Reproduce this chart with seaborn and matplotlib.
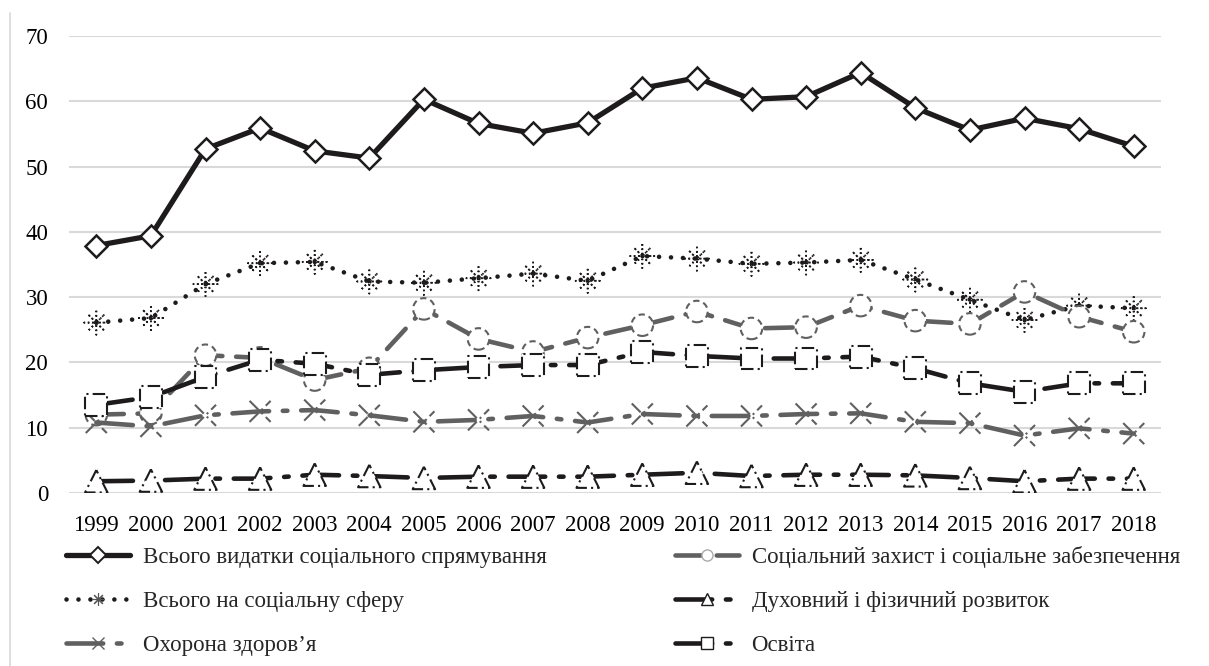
import matplotlib
matplotlib.use("Agg")
import matplotlib.pyplot as plt
from matplotlib.lines import Line2D
import pandas as pd
import seaborn as sns

# Shares of expenditure by year
years = list(range(1999, 2019))
total_social = [37.9, 39.4, 52.7, 55.9, 52.4, 51.3, 60.3, 56.6, 55.1, 56.7,
                62.0, 63.6, 60.3, 60.7, 64.4, 59.0, 55.6, 57.4, 55.8, 53.1]
social_sphere = [26.1, 26.8, 32.0, 35.2, 35.4, 32.4, 32.2, 32.9, 33.6, 32.5,
                 36.3, 35.9, 35.1, 35.3, 35.7, 32.7, 29.6, 26.5, 28.7, 28.3]
social_protection = [12.0, 12.2, 21.1, 20.7, 17.3, 19.1, 28.2, 23.6, 21.6, 23.8,
                     25.7, 27.8, 25.2, 25.4, 28.7, 26.4, 25.9, 30.8, 27.0, 24.7]
health = [10.8, 10.2, 11.9, 12.5, 12.7, 11.9, 10.9, 11.2, 11.8, 10.8,
          12.1, 11.8, 11.8, 12.1, 12.2, 10.9, 10.7, 8.8, 9.9, 9.1]
culture_sport = [1.8, 1.9, 2.2, 2.2, 2.8, 2.6, 2.3, 2.5, 2.5, 2.5,
                 2.8, 3.1, 2.6, 2.8, 2.8, 2.7, 2.3, 1.8, 2.2, 2.2]
education = [13.5, 14.7, 17.8, 20.4, 19.8, 18.1, 18.8, 19.3, 19.6, 19.6,
             21.6, 21.0, 20.6, 20.6, 20.9, 19.1, 16.8, 15.5, 16.8, 16.8]

labels = {
    "total": "Всього видатки соціального спрямування",
    "protection": "Соціальний захист і соціальне забезпечення",
    "sphere": "Всього на соціальну сферу",
    "culture": "Духовний і фізичний розвиток",
    "health": "Охорона здоров’я",
    "education": "Освіта",
}
y_ticks = [0, 10, 20, 30, 40, 50, 60, 70]

df = pd.DataFrame({
    "year": years,
    "total": total_social,
    "sphere": social_sphere,
    "protection": social_protection,
    "health": health,
    "culture": culture_sport,
    "education": education,
})

BLACK = "#1e1b1c"
GREY = "#606060"
DASH_DOT = (0, (8, 3, 1, 3))
SERIF = "Liberation Serif"
FS = 16.5

sns.set_style("white")
plt.rcParams["font.family"] = SERIF

fig = plt.figure(figsize=(12.09, 6.66), dpi=100)
ax = fig.add_axes([69 / 1209, 1 - 493 / 666, (1161 - 69) / 1209, (493 - 36) / 666])

# series styles: line kwargs, marker kwargs
styles = {
    "sphere": dict(line=dict(color=BLACK, lw=3.3, linestyle=(0, (0.01, 2.6))),
                   mk=dict(marker=(8, 2, 0), s=300, color=BLACK, linewidth=1.3,
                           linestyle=(0, (0.8, 1.6)))),
    "protection": dict(line=dict(color=GREY, lw=3.3, linestyle=(0, (6, 3))),
                       mk=dict(marker="o", s=240, facecolor="white", edgecolor=GREY,
                               linewidth=1.5, linestyle=(0, (3, 2)))),
    "health": dict(line=dict(color=GREY, lw=3.3, linestyle=DASH_DOT),
                   mk=dict(marker="x", s=230, color=GREY, linewidth=1.5,
                           linestyle=(0, (6, 2, 1, 2)))),
    "culture": dict(line=dict(color=BLACK, lw=3.3, linestyle=DASH_DOT),
                    mk=dict(marker="^", s=260, facecolor="white", edgecolor=BLACK,
                            linewidth=1.5, linestyle=(0, (6, 2, 1, 2)))),
    "education": dict(line=dict(color=BLACK, lw=3.3, linestyle=DASH_DOT),
                      mk=dict(marker="s", s=250, facecolor="white", edgecolor=BLACK,
                              linewidth=1.5, linestyle=(0, (6, 2, 1, 2)))),
}

z = 3
for key in ["sphere", "protection", "health", "culture", "education"]:
    st = styles[key]
    sns.lineplot(data=df, x="year", y=key, ax=ax, zorder=z,
                 dash_capstyle="round", solid_capstyle="round", **st["line"])
    sns.scatterplot(data=df, x="year", y=key, ax=ax, zorder=z + 0.5,
                    legend=False, **st["mk"])
    z += 1

# main total series on top
sns.lineplot(data=df, x="year", y="total", ax=ax, zorder=20, color=BLACK, lw=3.8,
             marker="D", markersize=11, markerfacecolor="white",
             markeredgecolor=BLACK, markeredgewidth=1.8, solid_capstyle="round")

ax.set_xlim(1998.5, 2018.5)
ax.set_ylim(0, 70)
ax.set_xticks(years)
ax.set_xticklabels([str(y) for y in years], family=SERIF, fontsize=FS)
ax.set_yticks(y_ticks)
ax.set_yticklabels([str(v) for v in y_ticks], family=SERIF, fontsize=FS)
ax.set_xlabel("")
ax.set_ylabel("")
ax.grid(axis="y", color="#d9d9d9", lw=1.5)
ax.set_axisbelow(True)
for sp in ax.spines.values():
    sp.set_visible(False)
ax.tick_params(axis="both", length=0, colors="#000000")
ax.tick_params(axis="x", pad=15.5)
ax.tick_params(axis="y", pad=15)

# legend entries
h_total = Line2D([], [], color=BLACK, lw=3.8, marker="D", markersize=8,
                 markerfacecolor="white", markeredgecolor=BLACK, markeredgewidth=1.4)
h_sphere = Line2D([], [], color=BLACK, lw=3.3, linestyle=(0, (0.01, 2.6)),
                  dash_capstyle="round", marker=(8, 2, 0), markersize=9,
                  markeredgewidth=0.8, markeredgecolor="#555555")
h_prot = Line2D([], [], color=GREY, lw=3.3, linestyle=(0, (6, 3)),
                dash_capstyle="round", marker="o", markersize=8,
                markerfacecolor="white", markeredgecolor="#aaaaaa", markeredgewidth=1.0)
h_cult = Line2D([], [], color=BLACK, lw=3.3, linestyle=DASH_DOT, dash_capstyle="round",
                marker="^", markersize=8, markerfacecolor="white",
                markeredgecolor=BLACK, markeredgewidth=1.0)
h_health = Line2D([], [], color=GREY, lw=3.3, linestyle=DASH_DOT, dash_capstyle="round",
                  marker="x", markersize=8, markeredgecolor=GREY, markeredgewidth=1.0)
h_edu = Line2D([], [], color=BLACK, lw=3.3, linestyle=DASH_DOT, dash_capstyle="round",
               marker="s", markersize=8, markerfacecolor="white",
               markeredgecolor=BLACK, markeredgewidth=1.0)

handles = [h_total, h_sphere, h_health, h_prot, h_cult, h_edu]
names = [labels["total"], labels["sphere"], labels["health"],
         labels["protection"], labels["culture"], labels["education"]]
leg = fig.legend(handles, names, loc="upper left", bbox_to_anchor=(66 / 1209, 1 - 546 / 666),
                 ncol=2, frameon=False, prop={"family": SERIF, "size": FS},
                 handlelength=2.8, handletextpad=0.55,
                 columnspacing=5.6, labelspacing=1.0, borderaxespad=0, borderpad=0)

# chart area border on the left side
fig.add_artist(Line2D([10 / 1209, 10 / 1209], [1 - 13 / 666, 0], transform=fig.transFigure,
                      color="#d9d9d9", lw=1.2))

fig.savefig("out.png", dpi=100, facecolor="white")
